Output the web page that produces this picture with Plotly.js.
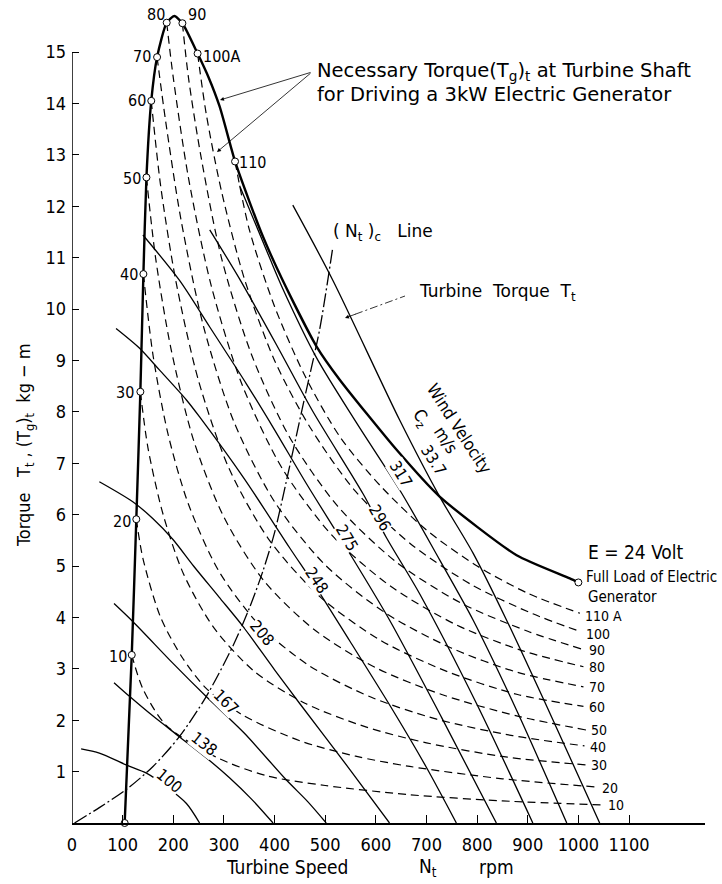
<!DOCTYPE html>
<html><head><meta charset="utf-8">
<script src="https://cdn.plot.ly/plotly-3.0.1.min.js"></script>
<style>html,body{margin:0;padding:0;background:#fff;}#chart{width:722px;height:884px;}</style>
</head><body><div id="chart"></div>
<script>
// ---------- DATA ----------
const xTicks = [0,100,200,300,400,500,600,700,800,900,1000,1100];
const yTicks = [1,2,3,4,5,6,7,8,9,10,11,12,13,14,15];

// Necessary torque (Tg)t envelope for 3 kW generator
const envN = [104,118,127,135,141,147,156.5,168,187,202,218,248,270,291.5,322,350,377,416,483,529,641,726,878,983,1000];
const envT = [0,3.27,5.91,8.39,10.68,12.56,14.05,14.9,15.57,15.7,15.56,14.97,14.5,13.94,12.87,12.1,11.41,10.56,9.27,8.62,7.26,6.35,5.21,4.76,4.68];

// current markers on envelope
const markerN = [104,118,127,135,141,147,156.5,168,187,218,248,322];
const markerT = [0,3.27,5.91,8.39,10.68,12.56,14.05,14.9,15.57,15.56,14.97,12.87];
const markerLabels = ["","10","20","30","40","50","60","70","80","90","100A","110"];
const fullLoadN = [1000];
const fullLoadT = [4.68];

// constant-current generator torque lines (A)
const ampLabels = ["10","20","30","40","50","60","70","80","90","100","110 A"];
const amp10N  = [118,140,186,285,384,500,667,850,1048];
const amp10T  = [3.27,2.61,1.9,1.28,0.92,0.73,0.55,0.43,0.35];
const amp20N  = [127,140,175,219,265,337,450,560,667,850,1036];
const amp20T  = [5.91,5.15,4.0,3.2,2.62,2.1,1.6,1.3,1.1,0.86,0.7];
const amp30N  = [135,150,180,220,280,360,460,580,700,860,1015];
const amp30T  = [8.39,7.3,6.0,4.85,3.8,2.95,2.33,1.87,1.56,1.28,1.13];
const amp40N  = [141,160,190,230,290,370,470,590,720,870,1012];
const amp40T  = [10.68,9.1,7.55,6.2,4.9,3.85,3.05,2.45,2.02,1.7,1.5];
const amp50N  = [147,165,195,240,300,380,480,600,730,880,1015];
const amp50T  = [12.56,11.0,9.25,7.45,5.95,4.7,3.75,3.02,2.5,2.08,1.81];
const amp60N  = [156.5,175,205,250,310,390,490,610,740,880,1010];
const amp60T  = [14.05,12.4,10.55,8.6,6.9,5.5,4.4,3.55,2.95,2.5,2.27];
const amp70N  = [168,185,215,260,320,400,500,620,750,880,1010];
const amp70T  = [14.9,13.65,11.75,9.65,7.8,6.25,5.02,4.08,3.4,2.93,2.65];
const amp80N  = [187,200,230,275,335,415,515,630,760,890,1010];
const amp80T  = [15.57,14.5,12.55,10.45,8.55,6.9,5.58,4.6,3.85,3.35,3.04];
const amp90N  = [218,230,255,295,355,430,525,640,770,900,1008];
const amp90T  = [15.56,14.5,12.95,11.0,9.1,7.5,6.16,5.08,4.27,3.73,3.38];
const amp100N = [248,265,295,340,400,470,560,670,790,910,1005];
const amp100T = [14.97,13.8,12.3,10.6,9.0,7.7,6.45,5.42,4.63,4.07,3.72];
const amp110N = [322,350,400,460,530,610,700,800,900,1003];
const amp110T = [12.87,11.55,10.05,8.7,7.5,6.55,5.7,5.0,4.47,4.08];

// turbine torque lines for wind velocities
const windLabels = ["100","138","167","208","248","275","296","317","33.7"];
const w100N = [18,54,107,147,186,226,252];
const w100T = [1.44,1.36,1.13,0.97,0.71,0.38,0];
const w138N = [83,114,160,212,265,311,355,397];
const w138T = [2.73,2.46,2.08,1.68,1.27,0.88,0.46,0];
const w167N = [83,120,200,265,340,423,465,502];
const w167T = [4.27,3.92,3.1,2.46,1.75,0.84,0.42,0];
const w208N = [54,120,160,199,240,290,338,400,450,548,627];
const w208T = [6.64,6.25,5.92,5.52,5.0,4.4,3.82,2.98,2.32,1.05,0];
const w248N = [87,133,173,226,252,340,430,481,548,627,700,759];
const w248T = [9.62,9.24,8.81,8.23,7.9,6.7,5.35,4.6,3.55,2.3,1.08,0];
const w275N = [140,212,272,344,400,463,545,627,730,838];
const w275T = [11.44,10.56,9.65,8.55,7.65,6.6,5.3,3.95,2.05,0];
const w296N = [272,330,404,476,575,621,687,800,910];
const w296T = [11.54,10.6,9.3,8.0,6.4,5.55,4.45,2.3,0];
const w317N = [331,390,416,483,561,649,726,792,880,977];
const w317T = [12.4,11.0,10.4,9.05,7.8,6.45,5.12,3.95,2.15,0];
const w337N = [436,515,647,726,792,858,950,1042];
const w337T = [12.02,10.56,7.84,6.35,5.25,3.95,2.0,0];

// (Nt)c line
const ntcN = [5,54,107,160,212,265,318,351,377,400,430,460,489,515];
const ntcT = [0,0.3,0.65,1.1,1.68,2.46,3.45,4.2,4.9,5.65,6.95,8.3,9.6,11.2];

// ---------- STYLE ----------
const NARROW = "'DejaVu Sans Condensed', 'Liberation Sans', sans-serif";
const WIDE = "'DejaVu Sans', 'Liberation Sans', sans-serif";
const K = '#000';

const traces = [];
const ampN = [amp10N,amp20N,amp30N,amp40N,amp50N,amp60N,amp70N,amp80N,amp90N,amp100N,amp110N];
const ampT = [amp10T,amp20T,amp30T,amp40T,amp50T,amp60T,amp70T,amp80T,amp90T,amp100T,amp110T];
ampN.forEach((n,i)=>traces.push({x:n,y:ampT[i],mode:'lines',hoverinfo:'skip',
  line:{color:K,width:1.2,dash:'8px,5px',shape:'spline',smoothing:0.8}}));
const wN = [w100N,w138N,w167N,w208N,w248N,w275N,w296N,w317N,w337N];
const wT = [w100T,w138T,w167T,w208T,w248T,w275T,w296T,w317T,w337T];
wN.forEach((n,i)=>traces.push({x:n,y:wT[i],mode:'lines',hoverinfo:'skip',
  line:{color:K,width:1.3,shape:'spline',smoothing:0.8}}));
traces.push({x:ntcN,y:ntcT,mode:'lines',line:{color:K,width:1.3,dash:'14px,3px,2px,3px',shape:'spline',smoothing:0.8}});
traces.push({x:envN,y:envT,mode:'lines',line:{color:K,width:2.4,shape:'spline',smoothing:0.6}});
traces.push({x:markerN,y:markerT,mode:'markers',cliponaxis:false,
  marker:{symbol:'circle',size:7,color:'#fff',line:{color:K,width:1}}});
traces.push({x:fullLoadN,y:fullLoadT,mode:'markers',cliponaxis:false,
  marker:{symbol:'circle',size:7,color:'#fff',line:{color:K,width:1}}});

// ---------- ANNOTATIONS (pixel placed) ----------
const L=72, W=633, B=823, H=817;
const px = (x)=> (x-L)/W, py = (y)=> (B-y)/H;
function T(text,x,y,o){
  o=o||{};
  const a = {xref:'paper',yref:'paper',x:px(x),y:py(y),text:text,showarrow:false,
    xanchor:o.xa||'left',yanchor:'middle',textangle:o.ang||0,borderpad:0,
    font:{family:o.fam||NARROW,size:o.size||17,color:K}};
  if(o.bg) a.bgcolor=o.bg;
  return a;
}
const ann = [];
// marker labels
const mPos = [null,[128,656],[132,521],[135,392],[139,274],[142,178],[147,101],[152,57],[156,15],[197,14],[202,57],[238,162]];
const mAnch = [null,'right','right','right','right','right','right','right','center','center','left','left'];
markerLabels.forEach((t,i)=>{ if(t) ann.push(T(t,mPos[i][0],mPos[i][1],{xa:mAnch[i],size:16})); });
// current labels on right
const aPos = [[607,805],[601,788],[590,765],[589,747],[590,730],[588,707],[588,687],[588,667],[588,650],[585,634],[584,616]];
ampLabels.forEach((t,i)=>ann.push(T(t,aPos[i][0],aPos[i][1],{size:14})));
// wind velocity labels
const wPos = [[169,780,40],[204,743,38],[226,701,45],[262,632,50],[316,580,56],[347,537,60],[380,517,60],[401,473,58],[434,460,57]];
windLabels.forEach((t,i)=>ann.push(T(t,wPos[i][0],wPos[i][1],{xa:'center',ang:wPos[i][2],size:16,bg:(i<8?'#fff':undefined)})));
ann.push(T('Wind Velocity',459,428,{xa:'center',ang:57,size:17}));
ann.push(T('C<sub>z</sub>',421,418,{xa:'center',ang:57,size:17}));
ann.push(T('m/s',446,440,{xa:'center',ang:57,size:17}));
ann.push(T('E = 24 Volt',636,552,{xa:'center',size:19}));
ann.push(T('Full Load of Electric',585,577,{size:15}));
ann.push(T('Generator',587,597,{size:15}));
ann.push(T('Necessary Torque(T<sub>g</sub>)<sub>t</sub> at Turbine Shaft',316,71,{fam:WIDE,size:19.5}));
ann.push(T('for Driving a 3kW Electric Generator',316,94,{fam:WIDE,size:19.5}));
ann.push(T('( N<sub>t</sub> )<sub>c</sub>   Line',332,232,{fam:WIDE,size:17}));
ann.push(T('Turbine  Torque  T<sub>t</sub>',418,293,{fam:WIDE,size:17}));
// axis titles
ann.push(T('Turbine Speed',225,867,{size:19}));
ann.push(T('N<sub>t</sub>',418,867,{size:19}));
ann.push(T('rpm',478,867,{size:19}));
ann.push(T('Torque   T<sub>t</sub> , (T<sub>g</sub>)<sub>t</sub>  kg − m',25,445,{xa:'center',ang:-90,size:18}));
// leaders
function arrow(hx,hy,tx,ty){
  return {xref:'paper',yref:'paper',x:px(hx),y:py(hy),ax:tx-hx,ay:ty-hy,text:'',showarrow:true,
    arrowhead:2,arrowsize:1,arrowwidth:0.8,arrowcolor:K,standoff:0};
}
ann.push(arrow(220,100,312,72));
ann.push(arrow(217,152,312,72));
ann.push(arrow(345,318,357,313.6));

const shapes = [
  {type:'line',xref:'x',yref:'y',x0:0,x1:0,y0:0,y1:15,line:{color:K,width:1.5}},
  {type:'line',xref:'paper',yref:'paper',x0:px(355),y0:py(314.3),x1:px(405),y1:py(296),line:{color:K,width:0.8,dash:'8px,3px,2px,3px'}}
];

const layout = {
  width:722,height:884,margin:{l:72,r:17,t:6,b:61},
  paper_bgcolor:'#fff',plot_bgcolor:'#fff',showlegend:false,
  xaxis:{range:[0,1250],tickvals:xTicks,ticktext:xTicks.map(String),ticks:'inside',ticklen:8,tickwidth:1,tickcolor:K,
    showline:true,linecolor:K,linewidth:1.5,showgrid:false,zeroline:false,
    tickfont:{family:NARROW,size:18,color:K},ticklabelstandoff:5},
  yaxis:{range:[0,15.895],tickvals:yTicks,ticks:'inside',ticklen:7,tickwidth:1,tickcolor:K,
    showline:false,showgrid:false,zeroline:false,
    tickfont:{family:NARROW,size:18,color:K},ticklabelstandoff:5},
  annotations:ann,shapes:shapes
};
Plotly.newPlot('chart',traces,layout,{staticPlot:true,displayModeBar:false});
</script></body></html>
